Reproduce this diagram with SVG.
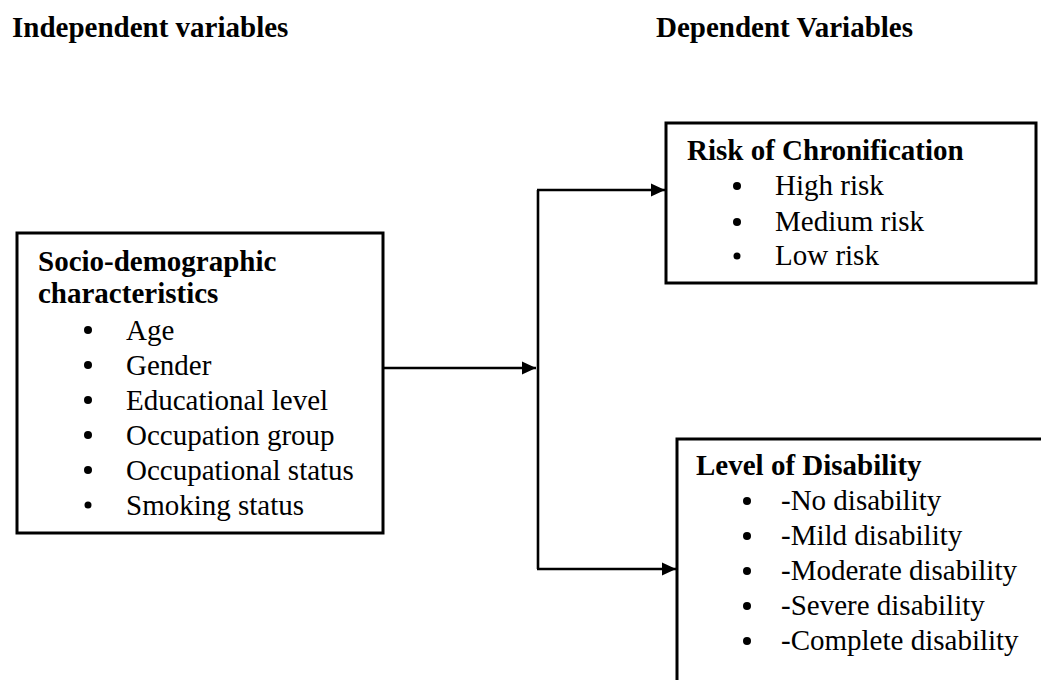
<svg xmlns="http://www.w3.org/2000/svg" width="1041" height="680" viewBox="0 0 1041 680">
<style>
.box{fill:#fff;stroke:#000;stroke-width:3}
text{font-family:'Liberation Serif','Times New Roman',serif;font-size:29px;fill:#000}
.hd,.tt{font-weight:bold}
.con{fill:none;stroke:#000;stroke-width:2.6}
</style>
<defs>
<marker id="arr" markerUnits="userSpaceOnUse" markerWidth="14" markerHeight="14" viewBox="0 0 12 12" refX="12" refY="6" orient="auto">
<path d="M0,0.5 L12,6 L0,11.5 Z" fill="#000"/>
</marker>
</defs>
<rect width="1041" height="680" fill="#fff"/>
<g id="headers">
<text class="hd" x="12" y="37">Independent variables</text>
<text class="hd" x="656" y="37">Dependent Variables</text>
</g>
<g id="connectors">
<path class="con" d="M383,368 H536" marker-end="url(#arr)"/>
<path class="con" d="M538,190 V569"/>
<path class="con" d="M537,190 H665" marker-end="url(#arr)"/>
<path class="con" d="M537,569 H676" marker-end="url(#arr)"/>
</g>
<g id="socio">
<rect class="box" x="17" y="233" width="366" height="300"/>
<text class="tt" x="38" y="271">Socio-demographic</text>
<text class="tt" x="38" y="303">characteristics</text>
<g fill="#000">
<circle cx="88" cy="330" r="4"/><circle cx="88" cy="365" r="4"/><circle cx="88" cy="400" r="4"/>
<circle cx="88" cy="435" r="4"/><circle cx="88" cy="470" r="4"/><circle cx="88" cy="505" r="3.5"/>
</g>
<text x="126" y="340">Age</text>
<text x="126" y="375">Gender</text>
<text x="126" y="410">Educational level</text>
<text x="126" y="445">Occupation group</text>
<text x="126" y="480">Occupational status</text>
<text x="126" y="515">Smoking status</text>
</g>
<g id="risk">
<rect class="box" x="666" y="123" width="370" height="160"/>
<text class="tt" x="687" y="160">Risk of Chronification</text>
<g fill="#000">
<circle cx="737" cy="186" r="4"/><circle cx="737" cy="222" r="4"/><circle cx="737" cy="256" r="3.5"/>
</g>
<text x="775" y="195">High risk</text>
<text x="775" y="231">Medium risk</text>
<text x="775" y="265">Low risk</text>
</g>
<g id="disability">
<rect class="box" x="677" y="439" width="390" height="280"/>
<text class="tt" x="696" y="475">Level of Disability</text>
<g fill="#000">
<circle cx="747" cy="501" r="4"/><circle cx="747" cy="536" r="4"/><circle cx="747" cy="571" r="4"/>
<circle cx="747" cy="606" r="4"/><circle cx="747" cy="641" r="4"/>
</g>
<text x="781" y="510">-No disability</text>
<text x="781" y="545">-Mild disability</text>
<text x="781" y="580">-Moderate disability</text>
<text x="781" y="615">-Severe disability</text>
<text x="781" y="650">-Complete disability</text>
</g>
</svg>
